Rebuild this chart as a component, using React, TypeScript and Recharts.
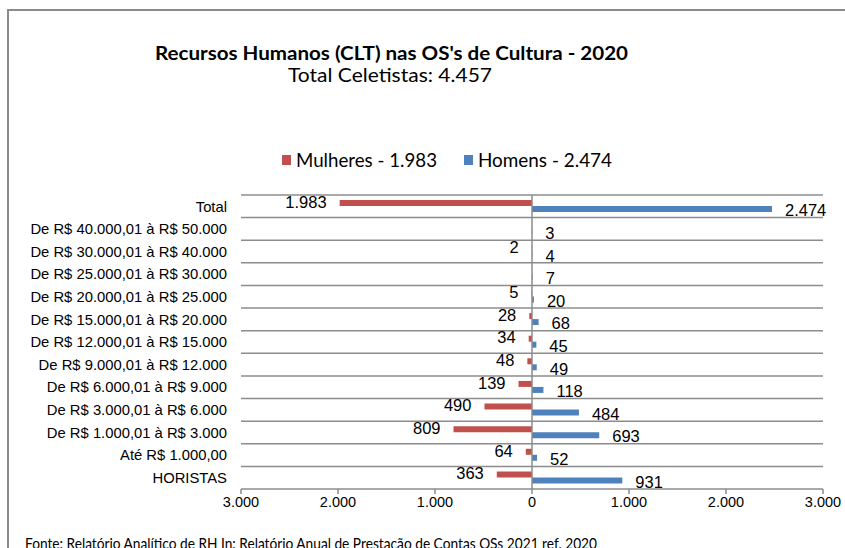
import { Bar, BarChart, CartesianGrid, LabelList, ReferenceLine, XAxis, YAxis } from 'recharts';

const faixas = [
  'Total',
  'De R$ 40.000,01 à R$ 50.000',
  'De R$ 30.000,01 à R$ 40.000',
  'De R$ 25.000,01 à R$ 30.000',
  'De R$ 20.000,01 à R$ 25.000',
  'De R$ 15.000,01 à R$ 20.000',
  'De R$ 12.000,01 à R$ 15.000',
  'De R$ 9.000,01 à R$ 12.000',
  'De R$ 6.000,01 à R$ 9.000',
  'De R$ 3.000,01 à R$ 6.000',
  'De R$ 1.000,01 à R$ 3.000',
  'Até R$ 1.000,00',
  'HORISTAS',
];

// null = no label shown in the source
const mulheres = [1983, null, 2, null, 5, 28, 34, 48, 139, 490, 809, 64, 363];
const homens = [2474, 3, 4, 7, 20, 68, 45, 49, 118, 484, 693, 52, 931];

const xTicks = [-3000, -2000, -1000, 0, 1000, 2000, 3000];

const TITLE = "Recursos Humanos (CLT) nas OS's de Cultura - 2020";
const SUBTITLE = 'Total Celetistas: 4.457';
const LEGEND_M = 'Mulheres - 1.983';
const LEGEND_H = 'Homens - 2.474';
const FOOTER =
  'Fonte: Relatório Analítico de RH In: Relatório Anual de Prestação de Contas OSs 2021 ref. 2020';

const RED = '#C0504D';
const BLUE = '#4F81BD';
const GRID = '#8c8c8c';
const ARIAL = '"Liberation Sans", Arial, sans-serif';
const CALIBRI = 'Lato, "Open Sans", sans-serif';

const W = 845;
const H = 548;

function fmt(n: number) {
  return String(Math.abs(n)).replace(/\B(?=(\d{3})+(?!\d))/g, '.');
}

const data = faixas.map((faixa, i) => ({
  faixa,
  mulheres: mulheres[i] == null ? null : -(mulheres[i] as number),
  homens: homens[i],
}));

function box(props: any) {
  const vb = props.viewBox ?? props;
  return { x: Number(vb.x), y: Number(vb.y), width: Number(vb.width), height: Number(vb.height) };
}

function MulheresLabel(props: any) {
  if (props.value == null) return null;
  const { x, y, width, height } = box(props);
  const end = Math.min(x, x + width);
  return (
    <text
      x={end - 13}
      y={y + height / 2 - 1}
      dy="0.35em"
      textAnchor="end"
      fontFamily={ARIAL}
      fontSize={16.5}
      fill="#000"
    >
      {fmt(props.value)}
    </text>
  );
}

function HomensLabel(props: any) {
  if (props.value == null) return null;
  const { x, y, width, height } = box(props);
  const end = Math.max(x, x + width);
  return (
    <text
      x={end + 13}
      y={y + height / 2 + 1.5}
      dy="0.35em"
      textAnchor="start"
      fontFamily={ARIAL}
      fontSize={16.5}
      fill="#000"
    >
      {fmt(props.value)}
    </text>
  );
}

export default function App() {
  return (
    <div
      style={{
        position: 'absolute',
        left: 0,
        top: 0,
        width: W,
        height: H,
        overflow: 'hidden',
        background: '#fff',
      }}
    >
      <div
        style={{
          position: 'absolute',
          left: 7,
          top: 9,
          width: 1000,
          height: 1000,
          borderLeft: '2px solid #8a8a8a',
          borderTop: '2px solid #8a8a8a',
        }}
      />

      <div style={{ position: 'absolute', left: 0, top: 0 }}>
        <BarChart
          width={W}
          height={H}
          data={data}
          layout="vertical"
          margin={{ top: 195, right: 22, bottom: 29, left: 0 }}
          barGap={0}
        >
          <CartesianGrid
            vertical={false}
            stroke={GRID}
            strokeWidth={1.5}
            horizontalCoordinatesGenerator={({ offset }: any) =>
              faixas.map((_, i) => offset.top + (i * offset.height) / faixas.length)
            }
          />
          <XAxis
            type="number"
            domain={[-3000, 3000]}
            ticks={xTicks}
            tickFormatter={fmt}
            allowDataOverflow
            stroke={GRID}
            strokeWidth={1.5}
            tickSize={5}
            tickMargin={3}
            height={30}
            tick={{ fill: '#000', fontSize: 14.5, fontFamily: ARIAL }}
          />
          <YAxis
            type="category"
            dataKey="faixa"
            width={241}
            axisLine={false}
            tickLine={false}
            tickMargin={8}
            interval={0}
            tick={{ fill: '#000', fontSize: 14.8, fontFamily: ARIAL }}
          />
          <ReferenceLine x={0} stroke={GRID} strokeWidth={1.5} />
          <Bar dataKey="mulheres" fill={RED} barSize={6} isAnimationActive={false}>
            <LabelList dataKey="mulheres" content={MulheresLabel} />
          </Bar>
          <Bar dataKey="homens" fill={BLUE} barSize={6} isAnimationActive={false}>
            <LabelList dataKey="homens" content={HomensLabel} />
          </Bar>
        </BarChart>
      </div>

      <svg
        width={W}
        height={H}
        style={{ position: 'absolute', left: 0, top: 0, pointerEvents: 'none' }}
      >
        <text
          x={155}
          y={60}
          fontFamily={CALIBRI}
          fontWeight={700}
          fontSize={19}
          textLength={473}
          lengthAdjust="spacingAndGlyphs"
          fill="#000"
        >
          {TITLE}
        </text>
        <text
          x={288}
          y={81.5}
          fontFamily={CALIBRI}
          fontSize={19}
          textLength={204}
          lengthAdjust="spacingAndGlyphs"
          fill="#000"
        >
          {SUBTITLE}
        </text>

        <rect x={282} y={155} width={9} height={10} fill={RED} />
        <text
          x={296}
          y={166.5}
          fontFamily={CALIBRI}
          fontSize={18.5}
          textLength={141}
          lengthAdjust="spacingAndGlyphs"
          fill="#000"
        >
          {LEGEND_M}
        </text>
        <rect x={464} y={155} width={9} height={10} fill={BLUE} />
        <text
          x={478}
          y={166.5}
          fontFamily={CALIBRI}
          fontSize={18.5}
          textLength={134}
          lengthAdjust="spacingAndGlyphs"
          fill="#000"
        >
          {LEGEND_H}
        </text>

        <text
          x={25}
          y={548.5}
          fontFamily={CALIBRI}
          fontSize={15}
          textLength={572}
          lengthAdjust="spacingAndGlyphs"
          fill="#000"
        >
          {FOOTER}
        </text>
      </svg>
    </div>
  );
}
